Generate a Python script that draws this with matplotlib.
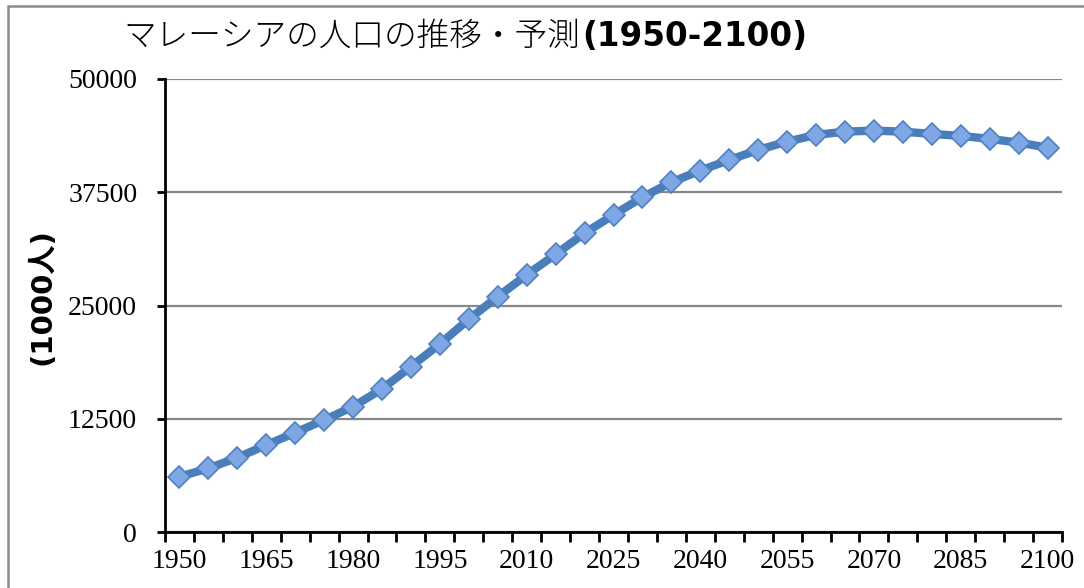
import matplotlib
matplotlib.use('Agg')
import matplotlib.pyplot as plt
from matplotlib.patches import Rectangle
from matplotlib.ticker import FixedLocator

# population of Malaysia, 1000 persons, every 5 years
years = list(range(1950, 2101, 5))
population = [6100, 7030, 8200, 9600, 10970, 12360, 13840, 15790, 18250, 20760,
              23480, 25980, 28380, 30650, 32980, 35000, 36950, 38610, 39890, 41070,
              42170, 43090, 43830, 44190, 44300, 44190, 43940, 43720, 43390, 42980,
              42430]
yticks = [0, 12500, 25000, 37500, 50000]

fig = plt.figure(figsize=(10.84, 5.88), dpi=100)
ax = fig.add_axes([165 / 1084, 56 / 588, (1062 - 165) / 1084, (532 - 79) / 588])

x = list(range(len(years)))
ax.plot(x, population, color='#4A7EBB', linewidth=6, marker='D', markersize=11,
        markerfacecolor='#7FA7E6', markeredgecolor='#4F81BD', markeredgewidth=1.2,
        zorder=3)

ax.set_xlim(-0.5, len(years) - 0.5)
ax.set_ylim(0, 50000)

# category labels every 3rd year, tick marks on category boundaries
ax.xaxis.set_major_locator(FixedLocator(x[::3]))
ax.set_xticklabels([str(y) for y in years[::3]])
ax.xaxis.set_minor_locator(FixedLocator([i - 0.5 for i in range(len(years) + 1)]))
ax.tick_params(axis='x', which='major', length=0, pad=12)
ax.tick_params(axis='x', which='minor', length=7, width=2, direction='out')

ax.set_yticks(yticks)
ax.set_yticklabels([str(v) for v in yticks])
ax.tick_params(axis='y', length=6, width=2, direction='out', pad=14)

for lab in ax.get_xticklabels() + ax.get_yticklabels():
    lab.set_fontfamily('Liberation Serif')
    lab.set_fontsize(20)

ax.grid(axis='y', color='#868686', linewidth=1.6)
ax.set_axisbelow(True)
for side in ['top', 'right']:
    ax.spines[side].set_visible(False)
for side in ['left', 'bottom']:
    ax.spines[side].set_linewidth(2)
    ax.spines[side].set_color('black')

# title: Japanese part + bold year range
fig.text(580 / 1084, 1 - 46 / 588, 'マレーシアの人口の推移・予測', ha='right',
         va='baseline', fontsize=23.5, family=['Noto Sans CJK JP'], weight='light')
fig.text(582 / 1084, 1 - 46 / 588, '(1950-2100)', ha='left', va='baseline',
         fontsize=23.5, family=['DejaVu Sans'], weight='bold')

fig.text(42 / 1084, 1 - 297 / 588, '(1000人)', rotation=90, ha='center', va='center',
         fontsize=21, weight='bold', family=['DejaVu Sans', 'Noto Sans CJK JP'])

# chart area border
fig.patches.append(Rectangle((8 / 1084, -0.1), 1.2, 1 - 6 / 588 + 0.1,
                             transform=fig.transFigure, fill=False,
                             edgecolor='#8C8C8C', linewidth=1.8))

fig.savefig('out.png', dpi=100)
